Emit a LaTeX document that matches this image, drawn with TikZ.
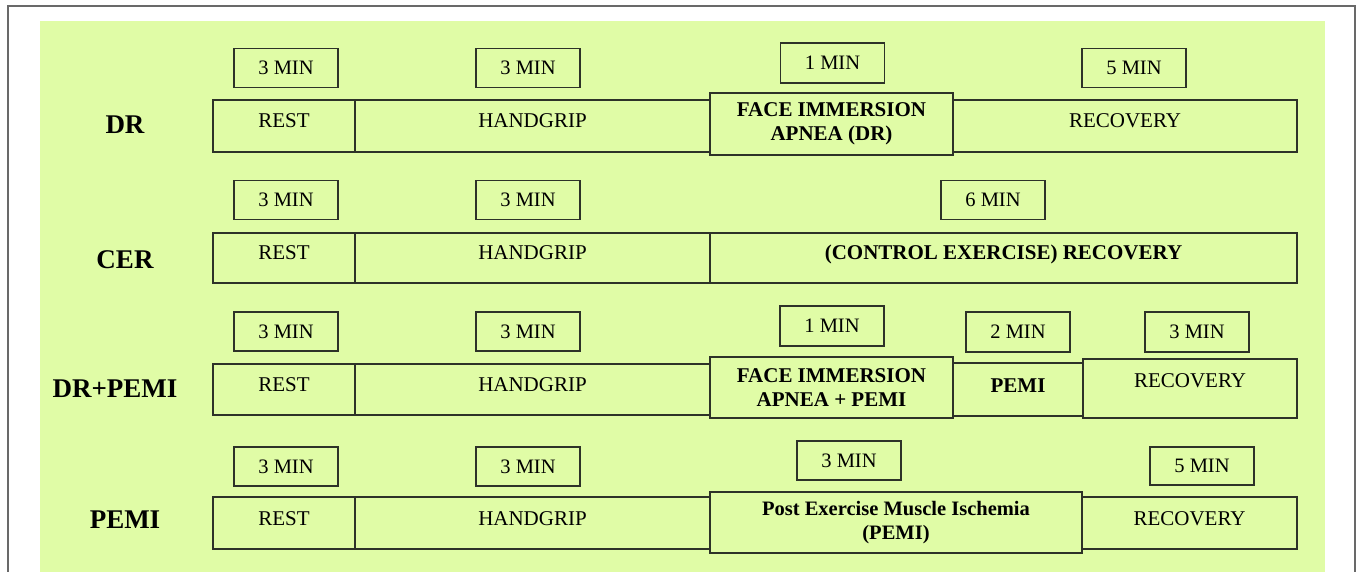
\documentclass[tikz,border=0pt]{standalone}
\usepackage{fontspec}
\setmainfont{Liberation Serif}
\definecolor{bggreen}{RGB}{224,252,166}
\definecolor{edge}{RGB}{45,50,40}
\definecolor{framegray}{RGB}{105,105,105}
\begin{document}
\begin{tikzpicture}[x=1pt,y=-1pt,
  box/.style={draw=edge,line width=1.5pt,fill=bggreen,inner sep=0pt,
    font=\fontsize{20.5}{23}\selectfont,align=center},
  dur/.style={box,minimum width=104pt,minimum height=39pt},
  seg/.style={box,minimum height=52pt},
  tallbox/.style={box,font=\fontsize{21}{23.5}\selectfont\bfseries},
  segtxt/.style={font=\fontsize{21}{23}\selectfont,inner sep=0pt},
  segbold/.style={font=\fontsize{21}{23}\selectfont\bfseries,inner sep=0pt},
  rowlab/.style={font=\fontsize{27}{30}\selectfont\bfseries,inner sep=0pt}]
\useasboundingbox (0,0) rectangle (1357,571);
\clip (0,0) rectangle (1357,571);
\fill[white] (0,0) rectangle (1357,571);
\draw[framegray,line width=1.5pt] (8,6) rectangle (1355,620);
\fill[bggreen] (40,21) rectangle (1325,620);

% ---------- DR ----------
\node[rowlab] (lDR) at (125,125) {DR};
\node[dur] (d1a) at (286,68) {3 MIN};
\node[dur] (d1b) at (528,68) {3 MIN};
\node[dur,minimum height=40pt] (d1c) at (832.5,63) {1 MIN};
\node[dur] (d1d) at (1134,68) {5 MIN};
\node[seg,minimum width=142pt,label={[segtxt,yshift=5pt]center:REST}] (s1a) at (284,126) {};
\node[seg,minimum width=355pt,label={[segtxt,yshift=5pt]center:HANDGRIP}] (s1b) at (532.5,126) {};
\node[seg,minimum width=344pt,label={[segtxt,yshift=5pt]center:RECOVERY}] (s1d) at (1125,126) {};
\node[tallbox,minimum width=243pt,minimum height=62pt] (s1c) at (831.5,124) {FACE IMMERSION\\APNEA (DR)};

% ---------- CER ----------
\node[rowlab] (lCER) at (125,260) {CER};
\node[dur] (d2a) at (286,200) {3 MIN};
\node[dur] (d2b) at (528,200) {3 MIN};
\node[dur] (d2c) at (993,200) {6 MIN};
\node[seg,minimum width=142pt,minimum height=50pt,label={[segtxt,yshift=5pt]center:REST}] (s2a) at (284,258) {};
\node[seg,minimum width=355pt,minimum height=50pt,label={[segtxt,yshift=5pt]center:HANDGRIP}] (s2b) at (532.5,258) {};
\node[seg,minimum width=587pt,minimum height=50pt,label={[segbold,yshift=4pt]center:(CONTROL EXERCISE) RECOVERY}] (s2c) at (1003.5,258) {};

% ---------- DR+PEMI ----------
\node[rowlab] (lDRP) at (115,389) {DR+PEMI};
\node[dur] (d3a) at (286,331.5) {3 MIN};
\node[dur] (d3b) at (528,331.5) {3 MIN};
\node[dur,minimum height=40pt] (d3c) at (832,326) {1 MIN};
\node[dur,minimum height=40pt] (d3d) at (1018,332) {2 MIN};
\node[dur,minimum height=40pt] (d3e) at (1197,332) {3 MIN};
\node[seg,minimum width=142pt,minimum height=51pt,label={[segtxt,yshift=5pt]center:REST}] (s3a) at (284,389.5) {};
\node[seg,minimum width=355pt,minimum height=51pt,label={[segtxt,yshift=5pt]center:HANDGRIP}] (s3b) at (532.5,389.5) {};
\node[seg,minimum width=130pt,minimum height=53pt,label={[segbold,yshift=4pt]center:PEMI}] (s3d) at (1018,389.5) {};
\node[seg,minimum width=214pt,minimum height=59pt,label={[segtxt,yshift=7.5pt]center:RECOVERY}] (s3e) at (1190,388.5) {};
\node[tallbox,minimum width=243pt,minimum height=61pt] (s3c) at (831.5,387.5) {FACE IMMERSION\\APNEA + PEMI};

% ---------- PEMI ----------
\node[rowlab] (lPEMI) at (125,520) {PEMI};
\node[dur] (d4a) at (286,466.5) {3 MIN};
\node[dur] (d4b) at (528,466.5) {3 MIN};
\node[dur] (d4c) at (849,460.5) {3 MIN};
\node[dur,minimum height=38pt] (d4d) at (1202,466) {5 MIN};
\node[seg,minimum width=142pt,label={[segtxt,yshift=4pt]center:REST}] (s4a) at (284,523) {};
\node[seg,minimum width=355pt,label={[segtxt,yshift=4pt]center:HANDGRIP}] (s4b) at (532.5,523) {};
\node[seg,minimum width=215pt,label={[segtxt,yshift=4pt]center:RECOVERY}] (s4d) at (1189.5,523) {};
\node[tallbox,minimum width=372pt,minimum height=61pt,font=\fontsize{20.5}{23.5}\selectfont\bfseries] (s4c) at (896,522.5) {Post Exercise Muscle Ischemia\\(PEMI)};
\end{tikzpicture}
\end{document}
